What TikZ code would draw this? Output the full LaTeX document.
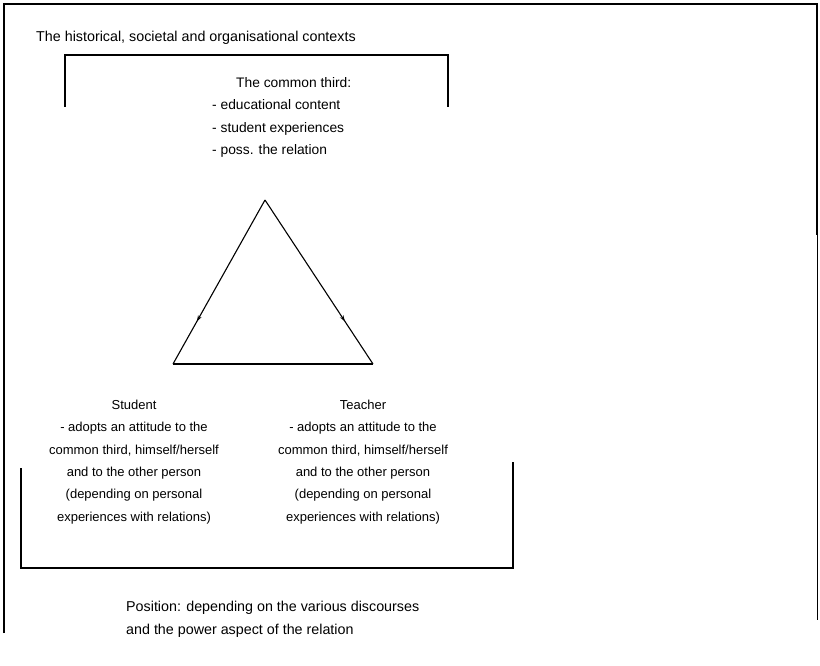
\documentclass[tikz,border=0pt]{standalone}
\usepackage{fontspec}
\setmainfont{Liberation Sans}
\usetikzlibrary{decorations.markings,arrows.meta}

\tikzset{
  txt/.style={font=\fontsize{14.3}{22.5}\selectfont, inner sep=0pt},
  pers/.style={font=\fontsize{13}{22.3}\selectfont, inner sep=0pt, align=center, anchor=north},
  rim/.style={line width=1.3pt},
  side/.style={line width=1.1pt, postaction={decorate},
    decoration={markings, mark=at position 0.74 with {\arrow{Stealth[length=6pt,width=4pt]}}}},
}

\begin{document}
\begin{tikzpicture}[x=1pt,y=-1pt]
\useasboundingbox (0,0) rectangle (820,666);
%outer frame
\draw[rim] (4,633) -- (4,4) -- (817,4) -- (817,235);
\draw[line width=.8pt] (817,235) -- (817,620);
\node[txt,anchor=north west] (ctx) at (36,31) {The historical, societal and organisational contexts};
%upper bracket
\draw[rim] (65,107) -- (65,55) -- (448,55) -- (448,107);
\node[txt,font=\fontsize{13.8}{22.6}\selectfont,align=left,anchor=north west] (third) at (212,77)
  {\hspace*{24pt}The common third:\\- educational content\\- student experiences\\- poss. the relation};
%triangle
\coordinate (apex) at (265,200);
\coordinate (stu) at (173,364);
\coordinate (tea) at (373,364);
\foreach \c in {stu,tea}{
\draw[side] (apex) -- (\c);
}
\draw[line width=1.1pt] (stu) -- (tea);
%persons
\node[pers] (student) at (134,400)
  {Student\\- adopts an attitude to the\\common third, himself/herself\\and to the other person\\(depending on personal\\experiences with relations)};
\node[pers] (teacher) at (363,400)
  {Teacher\\- adopts an attitude to the\\common third, himself/herself\\and to the other person\\(depending on personal\\experiences with relations)};
%lower bracket
\draw[rim] (21,468) -- (21,568) -- (513,568) -- (513,462);
\node[txt,align=left,anchor=north west] (pos) at (126,601)
  {Position: depending on the various discourses\\and the power aspect of the relation};
\end{tikzpicture}
\end{document}
